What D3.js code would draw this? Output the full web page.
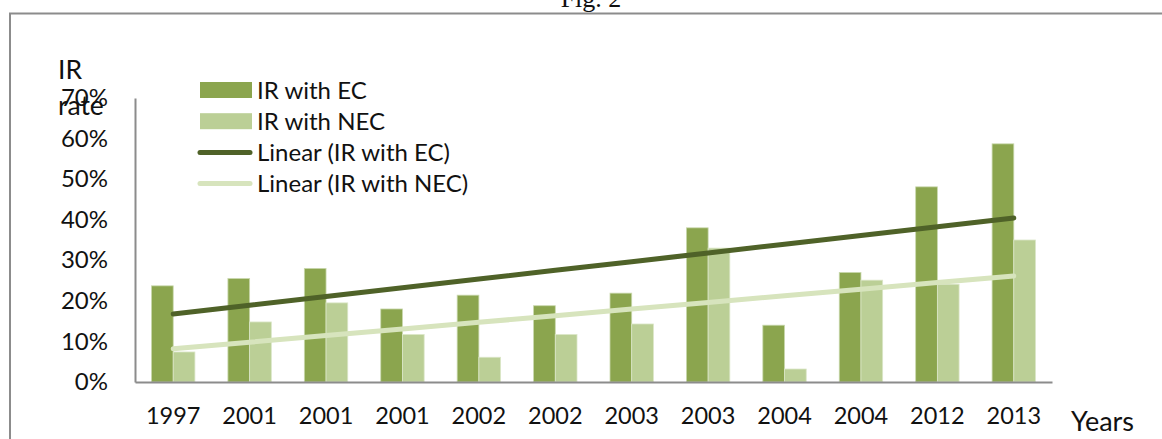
<!DOCTYPE html>
<html>
<head>
<meta charset="utf-8">
<script src="https://cdn.jsdelivr.net/npm/d3@7"></script>
<style>
  html, body { margin: 0; padding: 0; background: #fff; }
  svg { display: block; }
  text { font-family: Lato, "Open Sans", sans-serif; fill: #111; }
</style>
</head>
<body>
<svg id="chart" width="1162" height="439"></svg>
<script>
// Survey years (repeated years are separate samples)
const years = ["1997", "2001", "2001", "2001", "2002", "2002", "2003", "2003", "2004", "2004", "2012", "2013"];
// IR rate with EC, per sample
const irWithEC = [0.237, 0.255, 0.280, 0.180, 0.214, 0.188, 0.219, 0.380, 0.140, 0.270, 0.481, 0.587];
// IR rate with NEC, per sample
const irWithNEC = [0.074, 0.148, 0.195, 0.117, 0.061, 0.117, 0.143, 0.330, 0.032, 0.251, 0.241, 0.350];
const yTicks = [0, 0.1, 0.2, 0.3, 0.4, 0.5, 0.6, 0.7];
const seriesNames = ["IR with EC", "IR with NEC"];
const trendNames = ["Linear (IR with EC)", "Linear (IR with NEC)"];

const colors = {
  ec: "#8ba54e",
  nec: "#bbcf96",
  ecTrend: "#4f6228",
  necTrend: "#d7e4bd",
  axis: "#8c8c8c"
};

const svg = d3.select("#chart");

// caption and outer frame
svg.append("text")
  .attr("x", 591).attr("y", 7)
  .attr("text-anchor", "middle")
  .style("font-family", "'Liberation Serif', 'Times New Roman', serif")
  .style("font-size", "26px")
  .text("Fig. 2");

svg.append("rect")
  .attr("x", 10).attr("y", 13.5)
  .attr("width", 1200).attr("height", 500)
  .attr("fill", "none")
  .attr("stroke", colors.axis)
  .attr("stroke-width", 2);

const plot = { left: 135, right: 1052, top: 98, bottom: 382 };

const idx = d3.range(years.length);
const x = d3.scaleBand()
  .domain(idx)
  .range([plot.left, plot.right])
  .paddingInner(0.432)
  .paddingOuter(0.216);

const xSub = d3.scaleBand()
  .domain([0, 1])
  .range([0, x.bandwidth()]);

const y = d3.scaleLinear()
  .domain([0, 0.7])
  .range([plot.bottom, plot.top]);

// bars
const groups = svg.append("g").selectAll("g")
  .data(idx)
  .join("g")
  .attr("transform", i => `translate(${x(i)},0)`);

groups.append("rect")
  .attr("x", xSub(0))
  .attr("width", xSub.bandwidth())
  .attr("y", i => y(irWithEC[i]))
  .attr("height", i => y(0) - y(irWithEC[i]))
  .attr("fill", colors.ec)
  .attr("stroke", "#c9d8ad").attr("stroke-width", 0.8);

groups.append("rect")
  .attr("x", xSub(1))
  .attr("width", xSub.bandwidth())
  .attr("y", i => y(irWithNEC[i]))
  .attr("height", i => y(0) - y(irWithNEC[i]))
  .attr("fill", colors.nec)
  .attr("stroke", "#dbe6c8").attr("stroke-width", 0.8);

// least-squares linear trend over the sample index
function linearFit(values) {
  const xs = values.map((_, i) => i + 1);
  const mx = d3.mean(xs), my = d3.mean(values);
  const sxy = d3.sum(xs, (v, i) => (v - mx) * (values[i] - my));
  const sxx = d3.sum(xs, v => (v - mx) * (v - mx));
  const slope = sxy / sxx;
  const intercept = my - slope * mx;
  return xs.map(v => intercept + slope * v);
}

const line = d3.line()
  .x((d, i) => x(i) + x.bandwidth() / 2)
  .y(d => y(d));

function drawTrend(values, color) {
  svg.append("path")
    .datum(linearFit(values))
    .attr("d", line)
    .attr("fill", "none")
    .attr("stroke", color)
    .attr("stroke-width", 5)
    .attr("stroke-linecap", "round");
}
drawTrend(irWithNEC, colors.necTrend);
drawTrend(irWithEC, colors.ecTrend);

// axes
const yAxis = d3.axisLeft(y)
  .tickValues(yTicks)
  .tickFormat(d3.format(".0%"))
  .tickSize(0)
  .tickPadding(27);

const yg = svg.append("g")
  .attr("transform", `translate(${plot.left},0)`)
  .call(yAxis);
yg.select(".domain").attr("stroke", colors.axis).attr("stroke-width", 2);
yg.selectAll("text").style("font-size", "24px").style("font-family", "Lato, sans-serif").attr("fill", "#111");

const xAxis = d3.axisBottom(x)
  .tickFormat(i => years[i])
  .tickSize(0)
  .tickPadding(25);

const xg = svg.append("g")
  .attr("transform", `translate(0,${plot.bottom})`)
  .call(xAxis);
xg.select(".domain").attr("stroke", colors.axis).attr("stroke-width", 2);
xg.selectAll("text").style("font-size", "23.5px").style("font-family", "Lato, sans-serif").attr("fill", "#111");

// axis titles
svg.append("text").attr("x", 58).attr("y", 79).style("font-size", "26.5px").text("IR");
svg.append("text").attr("x", 58).attr("y", 115).style("font-size", "26.5px").text("rate");
svg.append("text").attr("x", 1071).attr("y", 431).style("font-size", "27px").text("Years");

// legend
const legend = svg.append("g").attr("transform", "translate(200,90)");
const rowH = 31.2;
const legendItems = [
  { name: seriesNames[0], type: "bar", color: colors.ec },
  { name: seriesNames[1], type: "bar", color: colors.nec },
  { name: trendNames[0], type: "line", color: colors.ecTrend },
  { name: trendNames[1], type: "line", color: colors.necTrend }
];
const rows = legend.selectAll("g").data(legendItems).join("g")
  .attr("transform", (d, i) => `translate(0,${i * rowH})`);
rows.filter(d => d.type === "bar").append("rect")
  .attr("x", 0).attr("y", -8).attr("width", 52).attr("height", 16)
  .attr("fill", d => d.color);
rows.filter(d => d.type === "line").append("line")
  .attr("x1", 0).attr("x2", 50).attr("y1", 0).attr("y2", 0)
  .attr("stroke", d => d.color).attr("stroke-width", 5)
  .attr("stroke-linecap", "round");
rows.append("text")
  .attr("x", 57).attr("y", 0).attr("dy", "0.36em")
  .style("font-size", "24px")
  .text(d => d.name);
</script>
</body>
</html>
